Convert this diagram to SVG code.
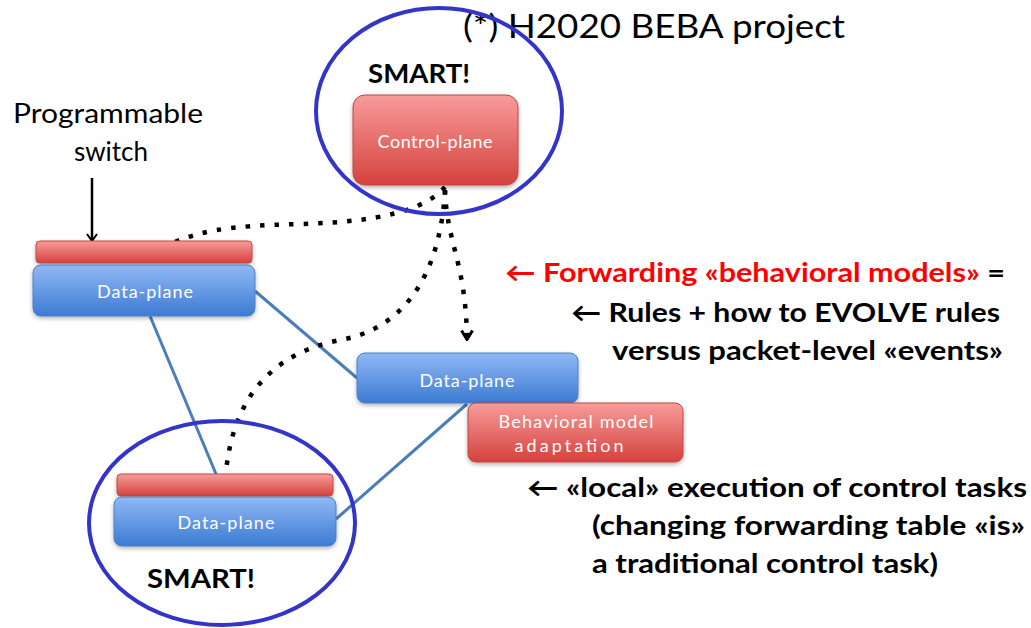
<svg xmlns="http://www.w3.org/2000/svg" width="1031" height="628" viewBox="0 0 1031 628">
<defs>
  <linearGradient id="gRed" x1="0" y1="0" x2="0" y2="1">
    <stop offset="0" stop-color="#f79c9a"/>
    <stop offset="1" stop-color="#d5413d"/>
  </linearGradient>
  <linearGradient id="gBlue" x1="0" y1="0" x2="0" y2="1">
    <stop offset="0" stop-color="#90b8f4"/>
    <stop offset="1" stop-color="#3c7bd3"/>
  </linearGradient>
  <filter id="shadow" x="-10%" y="-20%" width="120%" height="150%">
    <feDropShadow dx="0" dy="2" stdDeviation="2" flood-color="#000" flood-opacity="0.3"/>
  </filter>
  <marker id="vhead" viewBox="0 0 14 12" refX="7" refY="11" markerWidth="14" markerHeight="12" orient="0" markerUnits="userSpaceOnUse">
    <path d="M1.5,1.5 L7,10.5 L12.5,1.5" fill="none" stroke="#000" stroke-width="3"/>
  </marker>
  <marker id="vsmall" viewBox="0 0 12 10" refX="6" refY="9" markerWidth="12" markerHeight="10" orient="0" markerUnits="userSpaceOnUse">
    <path d="M1,2 L6,9 L11,2" fill="none" stroke="#000" stroke-width="2"/>
  </marker>
  <style>
    .box-red { fill: url(#gRed); stroke: #c04844; stroke-width: 1; filter: url(#shadow); }
    .box-blue { fill: url(#gBlue); stroke: #4a7fc8; stroke-width: 1; filter: url(#shadow); }
    .lbl { font-family: Lato, "Liberation Sans", sans-serif; font-size: 18px; fill: #ffffff; text-anchor: middle; }
    .link { stroke: #4a7ebb; stroke-width: 3; fill: none; }
    .dots { stroke: #000; stroke-width: 4.5; fill: none; stroke-dasharray: 4.5 10; }
    .ring { fill: none; stroke: #3434c9; stroke-width: 4; }
    .smart { font-family: Lato, "Liberation Sans", sans-serif; font-weight: bold; font-size: 27px; fill: #000; }
    .note { font-family: Lato, "Liberation Sans", "DejaVu Sans", sans-serif; font-weight: bold; font-size: 27px; fill: #000; }
    .plain { font-family: Lato, "Liberation Sans", sans-serif; fill: #000; }
  </style>
</defs>
<rect width="1031" height="628" fill="#ffffff"/>

<text id="title" class="plain" x="463" y="38" font-size="32" textLength="382" lengthAdjust="spacingAndGlyphs">(*) H2020 BEBA project</text>

<g id="switch-label">
  <text class="plain" x="13" y="123" font-size="26" textLength="190" lengthAdjust="spacingAndGlyphs">Programmable</text>
  <text class="plain" x="111" y="161" font-size="26" text-anchor="middle">switch</text>
</g>

<g id="connectors">
  <line class="link" x1="255" y1="291" x2="357" y2="378"/>
  <line class="link" x1="150" y1="316" x2="216" y2="474"/>
  <line class="link" x1="467" y1="404" x2="336" y2="519"/>
  <path class="dots" d="M445,187 C425,210 380,222 300,224 S200,232 172,243"/>
  <path class="dots" d="M445,190 C440,280 400,330 340,340 C290,350 235,380 226,472"/>
  <path class="dots" d="M445,190 C447,245 466,262 467,340" marker-end="url(#vhead)"/>
  <line x1="92" y1="178" x2="92" y2="241" stroke="#000" stroke-width="2.5" marker-end="url(#vsmall)"/>
</g>

<g id="control-plane">
  <rect class="box-red" x="353" y="95" width="165" height="90" rx="12"/>
  <text class="lbl" x="435" y="148" textLength="115">Control-plane</text>
</g>

<g id="switch-left">
  <rect class="box-red" x="36" y="241" width="216" height="22" rx="4"/>
  <rect class="box-blue" x="33" y="265" width="222" height="51" rx="8"/>
  <text class="lbl" x="145" y="298" textLength="96">Data-plane</text>
</g>

<g id="switch-middle">
  <rect class="box-blue" x="357" y="353" width="221" height="50" rx="8"/>
  <text class="lbl" x="467" y="387" textLength="95">Data-plane</text>
</g>

<g id="behavioral-model">
  <rect class="box-red" x="468" y="403" width="215" height="59" rx="8"/>
  <text class="lbl" x="576" y="428" textLength="155">Behavioral model</text>
  <text class="lbl" x="569" y="452" textLength="109">adaptation</text>
</g>

<g id="switch-bottom">
  <rect class="box-red" x="117" y="474" width="216" height="22" rx="4"/>
  <rect class="box-blue" x="114" y="497" width="222" height="49" rx="8"/>
  <text class="lbl" x="226" y="529" textLength="97">Data-plane</text>
</g>

<g id="smart-top">
  <ellipse class="ring" cx="439" cy="111" rx="123" ry="103"/>
  <text class="smart" x="368" y="83" textLength="102" lengthAdjust="spacingAndGlyphs">SMART!</text>
</g>

<g id="smart-bottom">
  <ellipse class="ring" cx="222" cy="523" rx="133" ry="102"/>
  <text class="smart" x="147" y="588" textLength="108" lengthAdjust="spacingAndGlyphs">SMART!</text>
</g>

<g id="notes">
  <text class="note" x="505" y="282" textLength="500" lengthAdjust="spacingAndGlyphs"><tspan fill="#ff0000">← Forwarding «behavioral models»</tspan><tspan> =</tspan></text>
  <text class="note" x="571" y="322" textLength="429" lengthAdjust="spacingAndGlyphs">← Rules + how to EVOLVE rules</text>
  <text class="note" x="612" y="360" textLength="391" lengthAdjust="spacingAndGlyphs">versus packet-level «events»</text>
  <text class="note" x="527" y="497" textLength="500" lengthAdjust="spacingAndGlyphs">← «local» execution of control tasks</text>
  <text class="note" x="592" y="535" textLength="433" lengthAdjust="spacingAndGlyphs">(changing forwarding table «is»</text>
  <text class="note" x="592" y="573" textLength="346" lengthAdjust="spacingAndGlyphs">a traditional control task)</text>
</g>
</svg>
